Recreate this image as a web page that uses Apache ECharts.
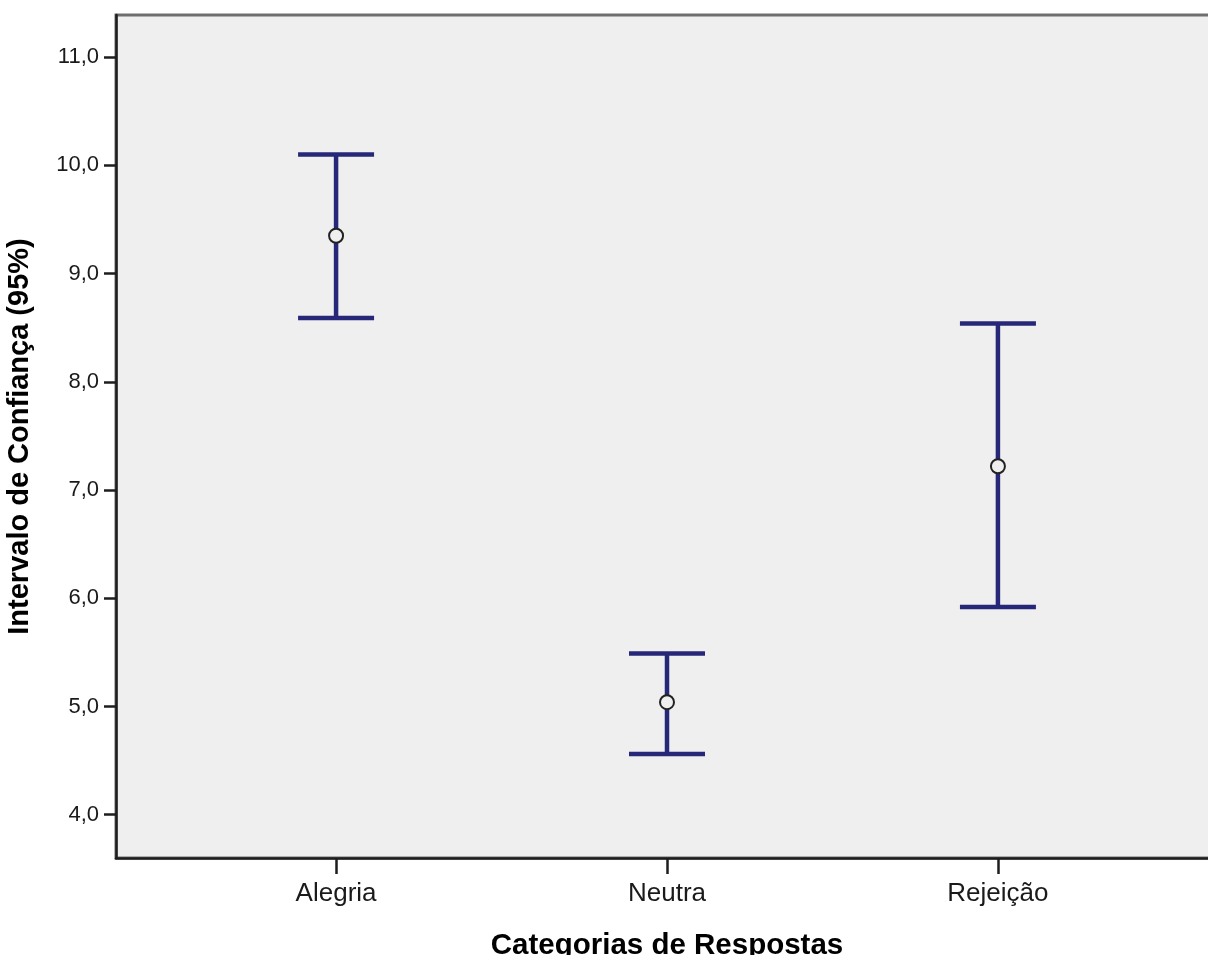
<!DOCTYPE html>
<html>
<head>
<meta charset="utf-8">
<script src="https://cdn.jsdelivr.net/npm/echarts@6/dist/echarts.min.js"></script>
<style>
html,body{margin:0;padding:0;background:#fff;}
#c{width:1208px;height:955px;}
</style>
</head>
<body>
<div id="c"></div>
<script>
var categories = ['Alegria', 'Neutra', 'Rejeição'];
var means = [9.35, 5.04, 7.22];
var lower = [8.59, 4.56, 5.92];
var upper = [10.10, 5.49, 8.54];
var yTicks = [4, 5, 6, 7, 8, 9, 10, 11];
var xTicks = [0, 1, 2];

var barData = categories.map(function (c, i) { return [i, lower[i], upper[i]]; });
var meanData = categories.map(function (c, i) { return [i, means[i]]; });

var chart = echarts.init(document.getElementById('c'), null, {renderer: 'canvas'});
var font = '"Liberation Sans", Arial, sans-serif';
chart.setOption({
  animation: false,
  backgroundColor: '#ffffff',
  grid: {
    left: 116, top: 15, right: -10, bottom: 97,
    show: true, backgroundColor: '#efefef', borderColor: '#6e6e6e', borderWidth: 3,
    containLabel: false, outerBoundsMode: 'none'
  },
  xAxis: {
    type: 'value', min: -0.665, max: 2.665,
    splitLine: {show: false},
    axisLine: {show: true, onZero: false, lineStyle: {color: '#1e1e1e', width: 2.5}},
    axisTick: {show: true, customValues: xTicks, length: 16, lineStyle: {color: '#1e1e1e', width: 2.5}},
    axisLabel: {
      customValues: xTicks, margin: 23, color: '#1a1a1a', fontSize: 26, fontFamily: font,
      formatter: function (v) { return categories[Math.round(v)]; }
    },
    name: 'Categorias de Respostas', nameLocation: 'middle', nameGap: 73,
    nameTextStyle: {fontSize: 29.5, fontWeight: 'bold', color: '#000', fontFamily: font}
  },
  yAxis: {
    type: 'value', min: 3.6, max: 11.39,
    splitLine: {show: false},
    axisLine: {show: true, onZero: false, lineStyle: {color: '#1e1e1e', width: 2.5}},
    axisTick: {show: true, customValues: yTicks, length: 12, lineStyle: {color: '#1e1e1e', width: 2.5}},
    axisLabel: {
      customValues: yTicks, margin: 17, color: '#1a1a1a', fontSize: 22, fontFamily: font,
      formatter: function (v) { return v.toFixed(1).replace('.', ','); }
    },
    name: 'Intervalo de Confiança (95%)', nameLocation: 'middle', nameGap: 82,
    nameTextStyle: {fontSize: 29, fontWeight: 'bold', color: '#000', fontFamily: font}
  },
  series: [
    {
      type: 'custom',
      data: barData,
      z: 2,
      renderItem: function (params, api) {
        var x = api.value(0);
        var lo = api.coord([x, api.value(1)]);
        var hi = api.coord([x, api.value(2)]);
        var hw = 38;
        var style = {stroke: '#27277a', lineWidth: 4.5, fill: null};
        return {
          type: 'group',
          children: [
            {type: 'line', shape: {x1: lo[0], y1: lo[1], x2: hi[0], y2: hi[1]}, style: style},
            {type: 'line', shape: {x1: hi[0] - hw, y1: hi[1], x2: hi[0] + hw, y2: hi[1]}, style: style},
            {type: 'line', shape: {x1: lo[0] - hw, y1: lo[1], x2: lo[0] + hw, y2: lo[1]}, style: style}
          ]
        };
      }
    },
    {
      type: 'scatter',
      data: meanData,
      z: 3,
      symbol: 'circle',
      symbolSize: 14,
      itemStyle: {color: '#efefef', borderColor: '#222', borderWidth: 2, opacity: 1}
    }
  ]
});
</script>
</body>
</html>
